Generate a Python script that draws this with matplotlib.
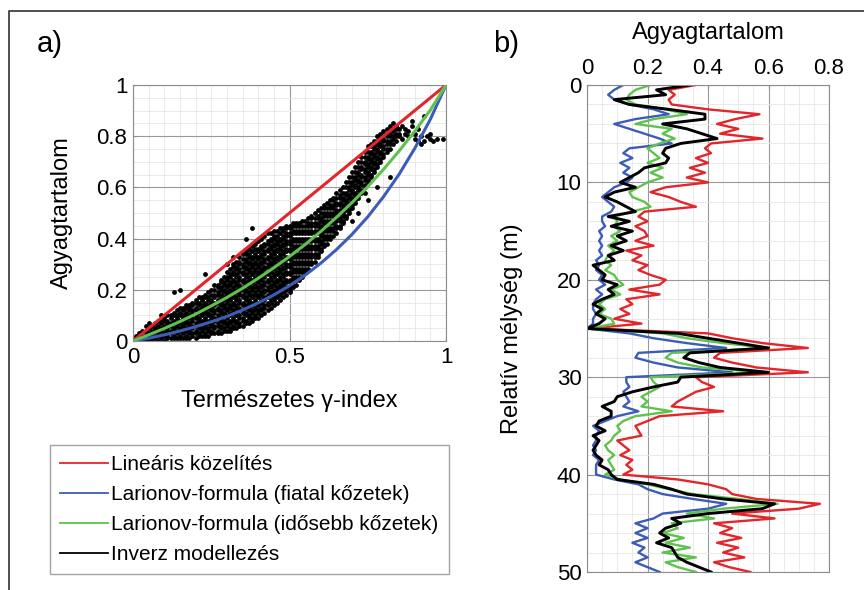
import numpy as np
import matplotlib
matplotlib.use('Agg')
import matplotlib.pyplot as plt
from matplotlib.lines import Line2D
from matplotlib.ticker import MultipleLocator

plt.rcParams['font.family'] = ['Liberation Sans', 'DejaVu Sans']

RED = '#e3262b'
BLUE = '#3d5cb8'
GREEN = '#5fc24e'

# --- a) panel: natural gamma index vs clay content ---
gamma_pts = [0, 0.05, 0.1, 0.15, 0.2, 0.25, 0.3, 0.35, 0.4, 0.45, 0.5,
             0.55, 0.6, 0.65, 0.7, 0.75, 0.8, 0.85, 0.9, 0.95, 1.0]
lin_clay = [0, 0.05, 0.1, 0.15, 0.2, 0.25, 0.3, 0.35, 0.4, 0.45, 0.5,
            0.55, 0.6, 0.65, 0.7, 0.75, 0.8, 0.85, 0.9, 0.95, 1.0]
young_clay = [0, 0.011, 0.024, 0.039, 0.056, 0.075, 0.096, 0.121, 0.149, 0.18, 0.216,
              0.257, 0.304, 0.357, 0.417, 0.485, 0.563, 0.651, 0.752, 0.866, 1.0]
old_clay = [0, 0.024, 0.049, 0.076, 0.105, 0.137, 0.17, 0.206, 0.245, 0.286, 0.33,
            0.377, 0.428, 0.483, 0.541, 0.603, 0.67, 0.742, 0.819, 0.902, 1.0]

# measured points, one column per gamma index (hundredths), clay values in hundredths
cloud = {
    1: "0 1 2", 2: "0 1 2 3", 3: "0 1 2 4", 4: "0 1 3 4 6", 5: "0 2 3 5 7",
    6: "0 1 3 4 6", 7: "1 2 4 5 7", 8: "0 2 3 5 6 8", 9: "1 2 4 5 7 8 10",
    10: "0 2 3 5 6 8 9", 11: "1 2 4 5 7 8 10", 12: "1 3 4 6 7 9 10",
    13: "1 2 4 5 7 8 10 11 19", 14: "1 3 4 6 7 9 10 12",
    15: "1 2 4 5 7 8 10 11 13 20", 16: "1 3 4 6 7 9 10 12 13",
    17: "1 2 4 5 7 8 10 11 13 14", 18: "1 3 4 6 7 9 10 12 13 14",
    19: "2 3 5 6 8 9 11 12 14 15", 20: "1 3 4 6 7 9 10 12 13 15 16",
    21: "2 3 5 6 8 9 11 12 14 15 17", 22: "2 4 5 7 8 10 11 13 14 16 17",
    23: "2 3 5 6 8 9 11 12 14 15 17 18 26", 24: "2 4 5 7 8 10 11 13 14 16 17 19",
    25: "3 4 6 7 9 10 12 13 15 16 18 20", 26: "3 5 6 8 9 11 12 14 15 17 18 20 22",
    27: "3 4 6 7 9 10 12 13 15 16 18 19 21 22",
    28: "3 5 6 8 9 11 12 14 15 17 18 20 21 23 24",
    29: "4 5 7 8 10 11 13 14 16 17 19 20 22 23 25",
    30: "4 6 7 9 10 12 13 15 16 18 19 21 22 24 25 27 30",
    31: "4 5 7 8 10 11 13 14 16 17 19 20 22 23 25 26 28",
    32: "5 6 8 9 11 12 14 15 17 18 20 21 23 24 26 27 29 30 33",
    33: "5 7 8 10 11 13 14 16 17 19 20 22 23 25 26 28 29 31",
    34: "6 7 9 10 12 13 15 16 18 19 21 22 24 25 27 28 30 31 33",
    35: "6 8 9 11 12 14 15 17 18 20 21 23 24 26 27 29 30 32 34",
    36: "7 8 10 11 13 14 16 17 19 20 22 23 25 26 28 29 31 32 34 35 40",
    37: "7 9 10 12 13 15 16 18 19 21 22 24 25 27 28 30 31 33 34 36",
    38: "8 9 11 12 14 15 17 18 20 21 23 24 26 27 29 30 32 33 35 37 44",
    39: "9 10 12 13 15 16 18 19 21 22 24 25 27 28 30 31 33 34 36 38",
    40: "9 11 12 14 15 17 18 20 21 23 24 26 27 29 30 32 33 35 36 39",
    41: "10 12 13 15 16 18 19 21 22 24 25 27 28 30 31 33 34 36 37 40",
    42: "11 13 14 16 17 19 20 22 23 25 26 28 29 31 32 34 35 37 38 41",
    43: "12 14 15 17 18 20 21 23 24 26 27 29 30 32 33 35 36 38 39 42",
    44: "13 15 16 18 19 21 22 24 25 27 28 30 31 33 34 36 37 39 40 42",
    45: "14 16 17 19 20 22 23 25 26 28 29 31 32 34 35 37 38 40 41 43",
    46: "15 17 18 20 21 23 24 26 27 29 30 32 33 35 36 38 39 41 43",
    47: "16 18 19 21 22 24 25 27 28 30 31 33 34 36 37 39 40 42 44",
    48: "17 19 20 22 23 25 26 28 29 31 32 34 35 37 38 40 41 43 44",
    49: "18 20 21 23 24 26 27 29 30 32 33 35 36 38 39 41 42 44 45",
    50: "19 20 21 23 24 26 27 29 30 32 33 35 36 38 39 41 42 44 45",
    51: "21 22 24 25 27 28 30 31 33 34 36 37 39 40 42 43 45 46",
    52: "22 24 25 27 28 30 31 33 34 36 37 39 40 42 43 45 46",
    53: "24 25 27 28 30 31 33 34 36 37 39 40 42 43 45 46",
    54: "25 27 28 30 31 33 34 36 37 39 40 42 43 45 47",
    55: "27 28 30 31 33 34 36 37 39 40 42 43 45 47",
    56: "28 30 31 33 34 36 37 39 40 42 43 45 46 48",
    57: "30 31 33 34 36 37 39 40 42 43 45 46 48 49",
    58: "31 33 34 36 37 39 40 42 43 45 46 48 50",
    59: "33 34 36 37 39 40 42 43 45 46 48 49 51",
    60: "35 36 38 39 41 42 44 45 47 48 50 52",
    61: "37 38 40 41 43 44 46 47 49 50 52 53",
    62: "38 40 41 43 44 46 47 49 50 52 54",
    63: "40 41 43 44 46 47 49 50 52 53 55",
    64: "41 43 44 46 47 49 50 52 53 55 56",
    65: "42 44 45 47 48 50 51 53 54 56 58",
    66: "44 45 47 48 50 51 53 54 56 57 59",
    67: "46 47 49 50 52 53 55 56 58 60",
    68: "48 49 51 52 54 55 57 58 60 62",
    69: "50 51 53 54 56 57 59 60 62 64",
    70: "47 52 53 55 56 58 59 61 62 64 66",
    71: "54 55 57 58 60 61 63 64 66 68",
    72: "50 56 57 59 60 62 63 65 66 68 70",
    73: "58 59 61 62 64 65 67 68 70 72",
    74: "58 60 61 63 64 66 67 69 70 72 74",
    75: "55 62 63 65 66 68 69 71 72 74 76",
    76: "64 65 67 68 70 71 73 74 76 77",
    77: "66 67 69 70 72 73 75 76 78",
    78: "60 68 69 71 72 74 75 77 78 80",
    79: "70 71 73 74 76 77 79 81",
    80: "72 73 75 76 78 79 81 82",
    81: "74 75 77 78 80 81 83",
    82: "64 75 77 78 80 81 83 84",
    83: "77 79 80 82 83 85", 84: "78 80 81 83 84", 85: "80 81 83",
    86: "79 84", 87: "81 83", 88: "80 82", 89: "84 86", 90: "79 81",
    91: "78 83", 92: "77 80", 93: "78 88", 94: "80", 95: "79 81",
    96: "78", 97: "79", 99: "79",
}

# --- b) panel: clay content logs vs relative depth ---
depth = np.arange(0, 50.5, 0.5)
log_linear = [0.36, 0.27, 0.29, 0.27, 0.28, 0.4, 0.57, 0.49, 0.43, 0.5,
              0.44, 0.58, 0.41, 0.39, 0.41, 0.36, 0.4, 0.34, 0.39, 0.33,
              0.4, 0.26, 0.21, 0.27, 0.31, 0.36, 0.19, 0.17, 0.2, 0.16,
              0.19, 0.2, 0.16, 0.22, 0.13, 0.18, 0.15, 0.2, 0.17, 0.21,
              0.26, 0.24, 0.14, 0.24, 0.13, 0.15, 0.11, 0.14, 0.09, 0.18,
              0.01, 0.4, 0.48, 0.58, 0.73, 0.44, 0.42, 0.48, 0.56, 0.73,
              0.36, 0.38, 0.42, 0.36, 0.33, 0.3, 0.28, 0.45, 0.24, 0.2,
              0.16, 0.17, 0.18, 0.1, 0.12, 0.14, 0.11, 0.15, 0.13, 0.15,
              0.12, 0.3, 0.4, 0.46, 0.48, 0.56, 0.77, 0.7, 0.48, 0.62,
              0.42, 0.48, 0.44, 0.51, 0.43, 0.5, 0.45, 0.52, 0.42, 0.47, 0.54]
log_young = [0.12, 0.09, 0.07, 0.09, 0.14, 0.22, 0.27, 0.16, 0.09, 0.14,
             0.19, 0.24, 0.28, 0.14, 0.12, 0.15, 0.11, 0.14, 0.12, 0.15,
             0.13, 0.09, 0.07, 0.05, 0.07, 0.09, 0.08, 0.05, 0.05, 0.06,
             0.04, 0.05, 0.04, 0.05, 0.04, 0.05, 0.03, 0.04, 0.03, 0.05,
             0.04, 0.06, 0.03, 0.05, 0.03, 0.02, 0.02, 0.03, 0.02, 0.02,
             0.0, 0.14, 0.22, 0.33, 0.46, 0.17, 0.16, 0.22, 0.3, 0.48,
             0.13, 0.13, 0.14, 0.12, 0.13, 0.14, 0.12, 0.17, 0.1, 0.06,
             0.02, 0.04, 0.03, 0.03, 0.02, 0.03, 0.02, 0.04, 0.03, 0.03,
             0.03, 0.09, 0.17, 0.2, 0.25, 0.35, 0.46, 0.4, 0.25, 0.22,
             0.16, 0.2, 0.16, 0.2, 0.15, 0.19, 0.17, 0.2, 0.16, 0.2, 0.24]
log_old = [0.21, 0.16, 0.14, 0.13, 0.16, 0.26, 0.33, 0.22, 0.16, 0.28,
           0.25, 0.29, 0.24, 0.2, 0.22, 0.24, 0.2, 0.25, 0.21, 0.25,
           0.2, 0.17, 0.14, 0.15, 0.19, 0.21, 0.15, 0.09, 0.1, 0.09,
           0.11, 0.08, 0.1, 0.07, 0.09, 0.07, 0.06, 0.08, 0.06, 0.09,
           0.1, 0.12, 0.08, 0.11, 0.06, 0.04, 0.06, 0.04, 0.08, 0.09,
           0.01, 0.25, 0.33, 0.45, 0.6, 0.28, 0.26, 0.3, 0.38, 0.58,
           0.21, 0.22, 0.24, 0.21, 0.18, 0.2, 0.18, 0.28, 0.16, 0.12,
           0.1, 0.11, 0.09, 0.08, 0.06, 0.07, 0.09, 0.07, 0.08, 0.09,
           0.06, 0.11, 0.2, 0.27, 0.35, 0.5, 0.63, 0.45, 0.33, 0.42,
           0.28, 0.3, 0.25, 0.32, 0.26, 0.34, 0.25, 0.36, 0.26, 0.3, 0.36]
log_inverse = [0.34, 0.23, 0.26, 0.09, 0.14, 0.27, 0.39, 0.39, 0.25, 0.33,
               0.38, 0.43, 0.31, 0.26, 0.25, 0.27, 0.26, 0.19, 0.17, 0.14,
               0.11, 0.16, 0.09, 0.06, 0.1, 0.13, 0.16, 0.07, 0.14, 0.08,
               0.15, 0.1, 0.13, 0.08, 0.12, 0.07, 0.09, 0.02, 0.04, 0.06,
               0.05, 0.1, 0.07, 0.09, 0.05, 0.02, 0.05, 0.03, 0.06, 0.04,
               0.0, 0.3, 0.4, 0.5, 0.6, 0.34, 0.32, 0.37, 0.44, 0.6,
               0.31, 0.3, 0.22, 0.15, 0.1, 0.09, 0.05, 0.08, 0.08, 0.04,
               0.03, 0.06, 0.02, 0.04, 0.03, 0.02, 0.03, 0.05, 0.04, 0.07,
               0.08, 0.1, 0.22, 0.28, 0.33, 0.45, 0.62, 0.58, 0.4, 0.28,
               0.31, 0.26, 0.24, 0.27, 0.23, 0.28, 0.29, 0.3, 0.33, 0.37, 0.41]

labels = ['Lineáris közelítés', 'Larionov-formula (fiatal kőzetek)',
          'Larionov-formula (idősebb kőzetek)', 'Inverz modellezés']

sc_x = []
sc_y = []
for k, v in cloud.items():
    for s in v.split():
        sc_x.append(k / 100)
        sc_y.append(int(s) / 100)

W, H = 864, 590
fig = plt.figure(figsize=(W / 100, H / 100), dpi=100)

def style_axes(ax):
    ax.grid(which='major', color='0.6', lw=0.8)
    ax.grid(which='minor', color='0.9', lw=0.6)
    ax.set_axisbelow(True)
    for sp in ax.spines.values():
        sp.set_color('0.55')
    ax.tick_params(which='both', direction='in', color='0.55', labelsize=16, pad=4)
    ax.tick_params(which='minor', length=0)
    ax.tick_params(which='major', length=3)

# a)
ax1 = fig.add_axes([133 / W, 1 - 341 / H, 313 / W, 256 / H])
ax1.scatter(sc_x, sc_y, s=12, color='black', linewidths=0, zorder=2)
ax1.plot(gamma_pts, lin_clay, color=RED, lw=2.2, zorder=3)
ax1.plot(gamma_pts, young_clay, color=BLUE, lw=2.2, zorder=3)
ax1.plot(gamma_pts, old_clay, color=GREEN, lw=2.2, zorder=3)
ax1.set_xlim(0, 1)
ax1.set_ylim(0, 1)
ax1.set_xticks([0, 0.5, 1])
ax1.set_xticklabels(['0', '0.5', '1'])
ax1.set_yticks([0, 0.2, 0.4, 0.6, 0.8, 1])
ax1.set_yticklabels(['0', '0.2', '0.4', '0.6', '0.8', '1'])
ax1.xaxis.set_minor_locator(MultipleLocator(0.05))
ax1.yaxis.set_minor_locator(MultipleLocator(0.05))
style_axes(ax1)
ax1.set_xlabel('Természetes γ-index', fontsize=17, labelpad=16)
ax1.set_ylabel('Agyagtartalom', fontsize=17, labelpad=17)

# b)
ax2 = fig.add_axes([587 / W, 1 - 572 / H, 242 / W, 487 / H])
ax2.plot(log_linear, depth, color=RED, lw=1.7)
ax2.plot(log_young, depth, color=BLUE, lw=1.7)
ax2.plot(log_old, depth, color=GREEN, lw=1.7)
ax2.plot(log_inverse, depth, color='black', lw=2.1)
ax2.set_xlim(0, 0.8)
ax2.set_ylim(50, 0)
ax2.xaxis.tick_top()
ax2.xaxis.set_label_position('top')
ax2.set_xticks([0, 0.2, 0.4, 0.6, 0.8])
ax2.set_xticklabels(['0', '0.2', '0.4', '0.6', '0.8'])
ax2.set_yticks([0, 10, 20, 30, 40, 50])
ax2.xaxis.set_minor_locator(MultipleLocator(0.05))
ax2.yaxis.set_minor_locator(MultipleLocator(2))
style_axes(ax2)
ax2.set_xlabel('Agyagtartalom', fontsize=17, labelpad=14)
ax2.set_ylabel('Relatív mélység (m)', fontsize=17, labelpad=24)

fig.text(37 / W, 1 - 44 / H, 'a)', fontsize=21, va='center')
fig.text(493 / W, 1 - 44 / H, 'b)', fontsize=21, va='center')

handles = [Line2D([], [], color=c, lw=1.3) for c in (RED, BLUE, GREEN, 'black')]
leg = fig.legend(handles, labels, loc='upper left', bbox_to_anchor=(50 / W, 1 - 445 / H),
                 fontsize=15, frameon=True, fancybox=False, edgecolor='0.55',
                 handlelength=2.3, handletextpad=0.15, labelspacing=0.52,
                 borderpad=0.5, borderaxespad=0)
leg.get_frame().set_linewidth(1.0)

# page frame (left and top only)
fig.add_artist(Line2D([9 / W, 9 / W, 1], [0, 1 - 11 / H, 1 - 11 / H],
                      transform=fig.transFigure, color='0.25', lw=1.3))

fig.savefig('out.png', dpi=100)
